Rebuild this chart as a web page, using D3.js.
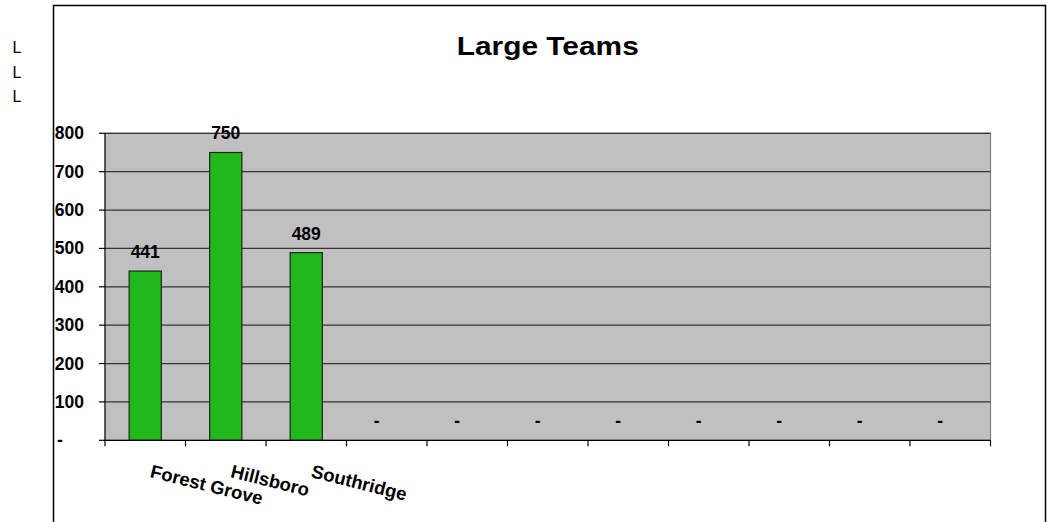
<!DOCTYPE html>
<html>
<head>
<meta charset="utf-8">
<script src="https://cdn.jsdelivr.net/npm/d3@7"></script>
<style>
  html, body { margin: 0; padding: 0; background: #fff; }
  svg { display: block; font-family: Arial, "Liberation Sans", sans-serif; }
</style>
</head>
<body>
<svg id="chart" width="1047" height="522"></svg>
<script>
const title = "Large Teams";
const categories = ["Forest Grove", "Hillsboro", "Southridge", "", "", "", "", "", "", "", ""];
const values = [441, 750, 489, 0, 0, 0, 0, 0, 0, 0, 0];
const yTicks = [0, 100, 200, 300, 400, 500, 600, 700, 800];
const yTickLabels = ["-", "100", "200", "300", "400", "500", "600", "700", "800"];
const sideLabels = ["L", "L", "L"];

const svg = d3.select("#chart");
const plot = { left: 105, right: 990.5, top: 133.3, bottom: 440.3 };

// side labels
svg.selectAll("text.side").data(sideLabels).enter().append("text")
  .attr("class", "side")
  .attr("x", 12.5).attr("y", (d, i) => 53 + i * 24.5)
  .attr("font-size", 16).attr("fill", "#000")
  .text(d => d);

// outer chart frame
svg.append("rect")
  .attr("x", 53.5).attr("y", 5.5)
  .attr("width", 992).attr("height", 540)
  .attr("fill", "none").attr("stroke", "#000").attr("stroke-width", 1.5);

// title
svg.append("text")
  .attr("x", (plot.left + plot.right) / 2).attr("y", 55)
  .attr("text-anchor", "middle")
  .attr("font-size", 26).attr("font-weight", "bold")
  .attr("textLength", 182).attr("lengthAdjust", "spacingAndGlyphs")
  .text(title);

const x = d3.scaleBand().domain(d3.range(categories.length))
  .range([plot.left, plot.right]).paddingInner(0).paddingOuter(0);
const y = d3.scaleLinear().domain([0, 800]).range([plot.bottom, plot.top]);

// plot background
svg.append("rect")
  .attr("x", plot.left).attr("y", plot.top)
  .attr("width", plot.right - plot.left).attr("height", plot.bottom - plot.top)
  .attr("fill", "#C0C0C0").attr("stroke", "#808080").attr("stroke-width", 1.2);

// gridlines
svg.selectAll("line.grid").data(yTicks.filter(d => d > 0)).enter().append("line")
  .attr("class", "grid")
  .attr("x1", plot.left).attr("x2", plot.right)
  .attr("y1", d => y(d)).attr("y2", d => y(d))
  .attr("stroke", "#333").attr("stroke-width", 1.2);

// y-axis line and ticks
svg.append("line")
  .attr("x1", plot.left).attr("x2", plot.left)
  .attr("y1", plot.top).attr("y2", plot.bottom)
  .attr("stroke", "#222").attr("stroke-width", 1.2);
svg.selectAll("line.ytick").data(yTicks).enter().append("line")
  .attr("class", "ytick")
  .attr("x1", plot.left - 6).attr("x2", plot.left)
  .attr("y1", d => y(d)).attr("y2", d => y(d))
  .attr("stroke", "#000").attr("stroke-width", 1.2);
svg.selectAll("text.ylab").data(yTicks).enter().append("text")
  .attr("class", "ylab")
  .attr("x", (d, i) => yTickLabels[i] === "-" ? 57 : 84)
  .attr("y", d => y(d) + 6)
  .attr("text-anchor", (d, i) => yTickLabels[i] === "-" ? "start" : "end")
  .attr("font-size", 17.5).attr("font-weight", "bold")
  .text((d, i) => yTickLabels[i]);

// bars
const bw = x.bandwidth() * 0.4;
svg.selectAll("rect.bar").data(values).enter().append("rect")
  .attr("class", "bar")
  .attr("x", (d, i) => x(i) + (x.bandwidth() - bw) / 2)
  .attr("y", d => y(d))
  .attr("width", bw)
  .attr("height", d => y(0) - y(d))
  .attr("fill", "#20B81A").attr("stroke", "#222").attr("stroke-width", d => d > 0 ? 1.2 : 0);

// data labels
svg.selectAll("text.dlab").data(values).enter().append("text")
  .attr("class", "dlab")
  .attr("x", (d, i) => x(i) + x.bandwidth() / 2 + (d === 0 ? -10 : 0))
  .attr("y", d => y(d) - 13)
  .attr("text-anchor", "middle")
  .attr("font-size", 17.5).attr("font-weight", "bold")
  .text(d => d === 0 ? "-" : d3.format(",")(d));

// x axis line and ticks
svg.append("line")
  .attr("x1", plot.left).attr("x2", plot.right)
  .attr("y1", plot.bottom).attr("y2", plot.bottom)
  .attr("stroke", "#000").attr("stroke-width", 1.3);
const edges = d3.range(categories.length + 1).map(i => plot.left + i * x.step());
svg.selectAll("line.xtick").data(edges).enter().append("line")
  .attr("class", "xtick")
  .attr("x1", d => d).attr("x2", d => d)
  .attr("y1", plot.bottom).attr("y2", plot.bottom + 6)
  .attr("stroke", "#000").attr("stroke-width", 1.2);

// x labels (rotated)
svg.selectAll("text.xlab").data(categories).enter().append("text")
  .attr("class", "xlab")
  .attr("transform", (d, i) => `translate(${x(i) + x.bandwidth() / 2 + 4},${477}) rotate(14)`)
  .attr("font-size", 18.5).attr("font-weight", "bold")
  .text(d => d);
</script>
</body>
</html>
